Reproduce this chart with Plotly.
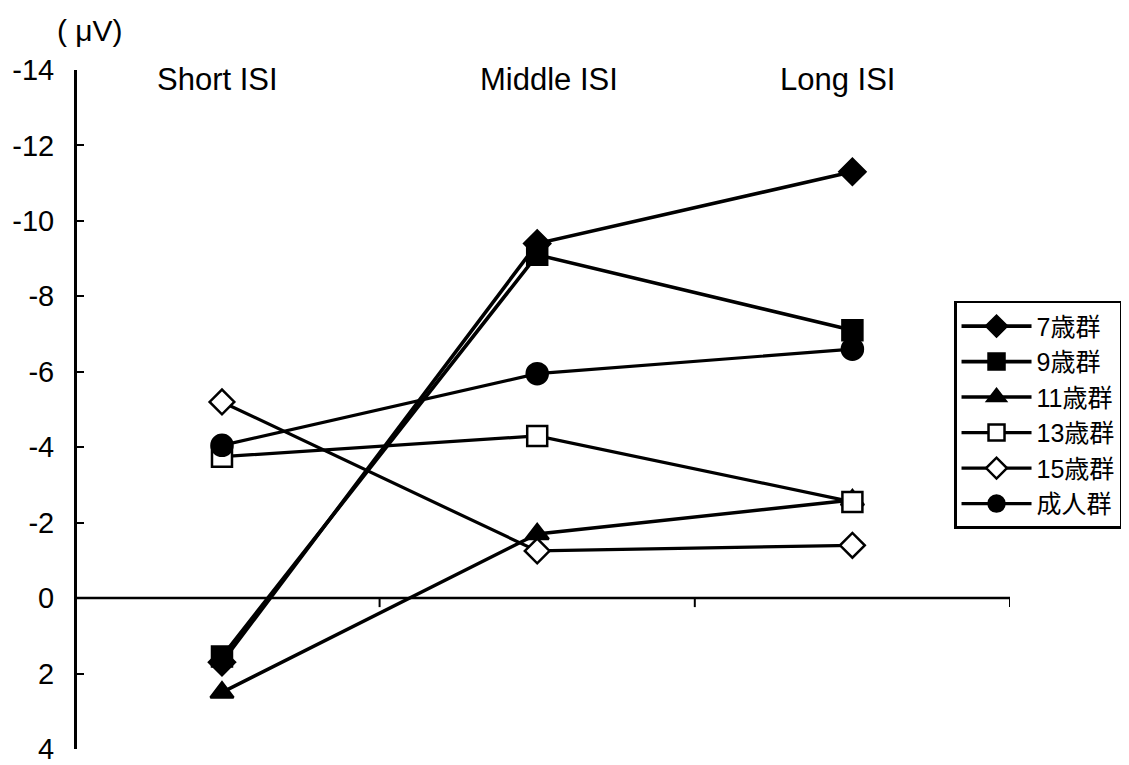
import plotly.graph_objects as go

categories = ["Short ISI", "Middle ISI", "Long ISI"]
series_names = ["7歳群", "9歳群", "11歳群", "13歳群", "15歳群", "成人群"]
v7 = [1.7, -9.4, -11.3]
v9 = [1.55, -9.1, -7.1]
v11 = [2.5, -1.7, -2.6]
v13 = [-3.75, -4.3, -2.55]
v15 = [-5.2, -1.25, -1.4]
vadult = [-4.05, -5.95, -6.6]
y_ticks = [-14, -12, -10, -8, -6, -4, -2, 0, 2, 4]

values = [v7, v9, v11, v13, v15, vadult]
symbols = ["diamond", "square", "triangle-up", "square", "diamond", "circle"]
fills = ["black", "black", "black", "white", "white", "black"]
sizes = [20, 20, 20, 20, 19, 21]
widths = [3.6, 3.6, 3.5, 3.2, 3.2, 3.2]
xpos = list(range(len(categories)))

FONT = "Liberation Sans, Arial, Noto Sans CJK JP, sans-serif"

fig = go.Figure()
for name, vals, sym, fc, sz, w in zip(series_names, values, symbols, fills, sizes, widths):
    fig.add_trace(go.Scatter(
        x=xpos, y=vals, name=name, mode="lines+markers",
        line=dict(color="black", width=w),
        marker=dict(symbol=sym, size=sz, color=fc, line=dict(color="black", width=2.5)),
        cliponaxis=False,
    ))

# x-axis line at y=0 with category-boundary ticks
fig.add_shape(type="line", xref="x", yref="y", x0=-0.46, x1=2.5, y0=0, y1=0,
              line=dict(color="black", width=2.5), layer="below")
for b in [0.5, 1.5, 2.5]:
    fig.add_shape(type="line", xref="x", yref="y", x0=b, x1=b, ysizemode="pixel",
                  yanchor=0, y0=0, y1=-9, line=dict(color="black", width=2))

label_shift = [-4, 12, -15]
for i, c in enumerate(categories):
    fig.add_annotation(x=i, y=1, xref="x", yref="paper", yanchor="middle", yshift=-9,
                       xshift=label_shift[i], text=c, showarrow=False,
                       font=dict(size=31, color="black", family=FONT), xanchor="center")

fig.add_annotation(x=0.014, y=1.0, xref="paper", yref="paper", yanchor="middle",
                   xanchor="center", text="( μV)", showarrow=False, yshift=40,
                   font=dict(size=30, color="black", family=FONT))

# page body has an 8px margin; size/margins compensate so the plot sits as in the reference
fig.update_layout(
    width=1121, height=757,
    margin=dict(l=69, r=119, t=62, b=16, autoexpand=False),
    paper_bgcolor="white", plot_bgcolor="white",
    font=dict(family=FONT, color="black"),
    xaxis=dict(range=[-0.46, 2.5], showgrid=False, zeroline=False, showline=False,
               showticklabels=False, ticks="", automargin=False),
    yaxis=dict(range=[4, -14], tickvals=y_ticks, ticktext=[str(t) for t in y_ticks],
               showgrid=False, zeroline=False, showline=True, linecolor="black", linewidth=3,
               ticks="inside", ticklen=7, tickwidth=2, tickcolor="black", automargin=False,
               ticklabeloverflow="allow",
               tickfont=dict(size=29, family=FONT), ticklabelstandoff=14),
    legend=dict(x=0.94, y=0.66, xanchor="left", yanchor="top",
                bordercolor="black", borderwidth=2.5, bgcolor="white",
                font=dict(size=25, family=FONT), tracegroupgap=0, itemwidth=70),
    showlegend=True,
)

fig.write_html("out.html")
